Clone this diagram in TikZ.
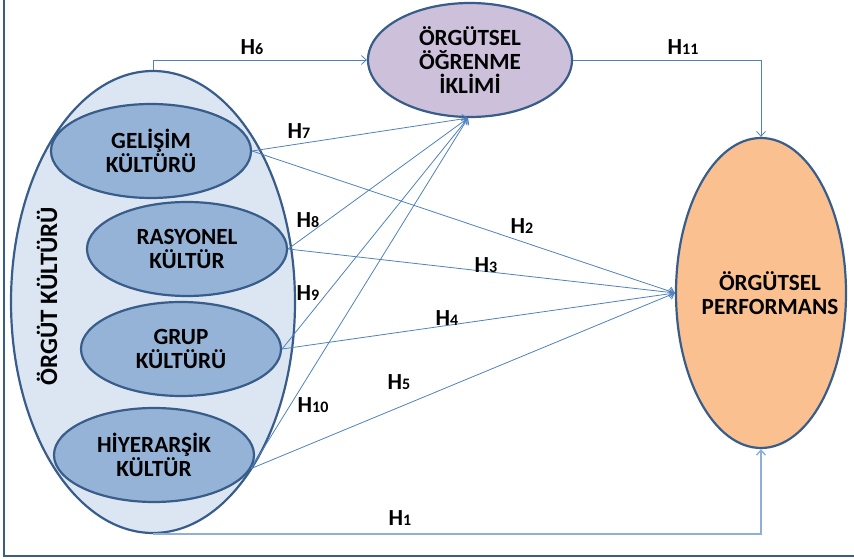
\documentclass[tikz,border=0pt]{standalone}
\usepackage{fontspec}
\setmainfont{Carlito}
\usepackage{xcolor}
\usetikzlibrary{arrows.meta, shapes.geometric}

\definecolor{edgeblue}{HTML}{385D8A}
\definecolor{lineblue}{HTML}{4F81BD}
\definecolor{paleblue}{HTML}{DCE6F2}
\definecolor{midblue}{HTML}{95B3D7}
\definecolor{softblue}{HTML}{8EAFD8}
\definecolor{lilac}{HTML}{CCC0DA}
\definecolor{peach}{HTML}{FAC090}

\newcommand{\hyplbl}[1]{H{\fontsize{16}{16}\selectfont #1}}

\begin{document}
\begin{tikzpicture}[x=1pt, y=1pt,
  oval/.style={ellipse, draw=edgeblue, line width=2.2pt, inner sep=0pt, align=center, font=\fontsize{23.2}{24}\selectfont\bfseries},
  culture/.style={oval, fill=midblue, minimum width=200pt, minimum height=94pt},
  hyp/.style={font=\fontsize{23}{24}\selectfont\bfseries},
  link/.style={draw=lineblue, line width=0.8pt, -{Straight Barb[length=5pt, width=9pt]}},
  path/.style={link, draw=softblue, line width=1.4pt}
]
  \useasboundingbox (0,0) rectangle (854,559);
  \draw[edgeblue, line width=2.5pt] (4,559) -- (4,3) -- (854,3);

  \node[oval, fill=paleblue, minimum width=284pt, minimum height=462pt] (orgut) at (153,257) {};
  \node[oval, rotate=90, draw=none, font=\fontsize{25}{27}\selectfont\bfseries] (orgutlbl) at (47,263) {ÖRGÜT KÜLTÜRÜ};

  \node[culture] (gelisim) at (151,408) {GELİŞİM\\KÜLTÜRÜ};
  \node[culture] (rasyonel) at (187,310) {RASYONEL\\KÜLTÜR};
  \node[culture] (grup) at (181,210) {GRUP\\KÜLTÜRÜ};
  \node[culture] (hiyer) at (154,104) {HİYERARŞİK\\KÜLTÜR};

  \node[oval, fill=lilac, minimum width=204pt, minimum height=114pt] (ogrenme) at (470,499) {ÖRGÜTSEL\\ÖĞRENME\\İKLİMİ};
  \node[oval, fill=peach, minimum width=170pt, minimum height=310pt] (perf) at (761,266) {};
  \node[oval, draw=none] (perflbl) at (770,266) {ÖRGÜTSEL\\PERFORMANS};

  \draw[link] (orgut.north) |- (ogrenme.west);
  \draw[link] (ogrenme.east) -| (perf.north);
  \draw[path] (orgut.south) -| (perf.south);

  \draw[link] (gelisim.east) -- (ogrenme.-92);
  \draw[link] (rasyonel.east) -- (ogrenme.-92);
  \draw[link] (grup.east) -- (ogrenme.-92);
  \draw[link] (hiyer.-8) -- (ogrenme.-92);
  \draw[link] (gelisim.east) -- (perf.west);
  \draw[link] (rasyonel.east) -- (perf.west);
  \draw[link] (grup.east) -- (perf.west);
  \draw[link] (hiyer.-8) -- (perf.west);

  \node[hyp] (h6) at (252,512) {\hyplbl{6}};
  \node[hyp] (h11) at (683,512) {\hyplbl{11}};
  \node[hyp] (h7) at (299,428) {\hyplbl{7}};
  \node[hyp] (h2) at (522,333) {\hyplbl{2}};
  \node[hyp] (h8) at (308,339) {\hyplbl{8}};
  \node[hyp] (h3) at (486,294) {\hyplbl{3}};
  \node[hyp] (h9) at (308,266) {\hyplbl{9}};
  \node[hyp] (h4) at (447,241) {\hyplbl{4}};
  \node[hyp] (h5) at (399,177) {\hyplbl{5}};
  \node[hyp] (h10) at (313,154) {\hyplbl{10}};
  \node[hyp] (h1) at (400,41) {\hyplbl{1}};
\end{tikzpicture}
\end{document}
